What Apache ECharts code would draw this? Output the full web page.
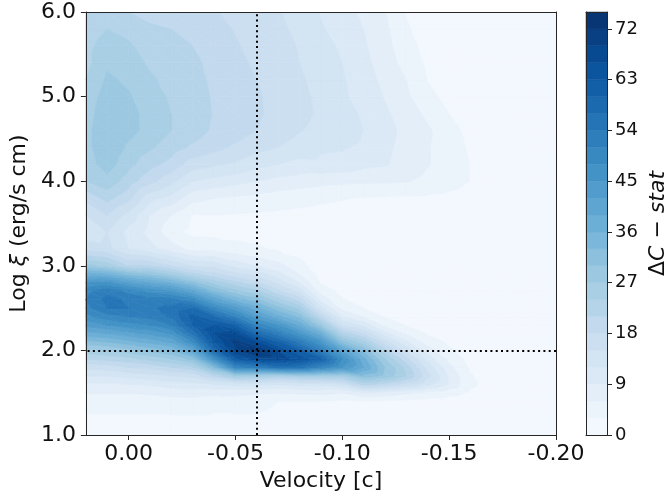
<!DOCTYPE html>
<html>
<head>
<meta charset="utf-8">
<script src="https://cdn.jsdelivr.net/npm/echarts@6/dist/echarts.min.js"></script>
<style>
  html, body { margin: 0; padding: 0; background: #ffffff; }
  #chart { width: 670px; height: 499px; }
</style>
</head>
<body>
<div id="chart"></div>
<script>
// Grid nodes of the ΔC-stat map: outflow velocity (columns) and log ionisation parameter (rows)
const velocity = [0.02, 0.01, 0.00, -0.01, -0.02, -0.03, -0.04, -0.05, -0.06, -0.07, -0.08, -0.09,
                  -0.10, -0.11, -0.12, -0.13, -0.14, -0.15, -0.16, -0.17, -0.18, -0.19, -0.20];
const logXi = [1.0, 1.2, 1.4, 1.5, 1.6, 1.7, 1.8, 1.9, 2.0, 2.1, 2.2, 2.3, 2.4, 2.5, 2.6, 2.7, 2.8,
               2.9, 3.0, 3.2, 3.4, 3.6, 3.8, 4.0, 4.2, 4.4, 4.6, 4.8, 5.0, 5.2, 5.4, 5.6, 5.8, 6.0];

// ΔC-stat improvement, one row per logXi value, one entry per velocity value
const deltaC = [
  [1.5, 1.5, 1.5, 1.5, 1.5, 1.5, 1.5, 1.5, 1.5, 1.5, 1.5, 1.5, 1.2, 1.2, 1.1, 1, 1, 1, 0.9, 0.9, 0.8, 0.8, 0.7],
  [2.5, 2.5, 2.5, 2.5, 2.5, 2.5, 2.5, 2.5, 2.5, 2, 2, 2, 1.8, 1.5, 1.4, 1.3, 1.2, 1.1, 1, 1, 0.9, 0.8, 0.8],
  [4.5, 4.5, 4.5, 4.5, 5, 5, 4, 4.5, 4, 3, 3, 3, 2.5, 3, 2.5, 2.3, 2, 1.8, 1.4, 1.2, 1, 0.9, 0.8],
  [6, 6, 6, 6.5, 7, 7.5, 7, 7, 6.5, 6, 6.5, 7, 6, 9, 8, 6.5, 5, 4, 2.5, 1.6, 1.2, 1, 0.9],
  [8.5, 8.5, 9, 9.5, 10.5, 11, 12, 13, 13, 12, 13, 13, 15, 22, 20, 17, 13, 8.5, 3.5, 2, 1.4, 1.1, 1],
  [12, 12, 13, 14, 15, 16, 21, 27, 26, 24, 26, 26, 26, 32, 29, 24, 16, 8.5, 3.2, 1.9, 1.4, 1.1, 1],
  [16, 16.5, 18, 19, 21, 23, 33, 50, 52, 55, 55, 50, 45, 39, 30, 23, 14, 7, 2.6, 1.6, 1.3, 1.1, 1],
  [21, 22, 23, 25, 27, 31, 47, 62, 67, 67, 65, 60, 48, 37, 27, 19, 11, 5, 2, 1.4, 1.2, 1, 0.9],
  [26, 27, 29, 31, 33, 40, 58, 69, 73, 66, 60, 52, 41, 32, 22, 14, 7.5, 3.5, 1.6, 1.2, 1.1, 1, 0.9],
  [32, 33, 35, 37, 39.5, 48, 63, 70, 66, 60, 53, 45, 31, 25, 16, 9.5, 4.5, 2.5, 1.3, 1.1, 1, 0.9, 0.9],
  [38, 39, 41, 43, 45.5, 55, 66, 67, 58, 52, 45, 37, 23, 18, 10, 5.5, 2.7, 1.8, 1.2, 1, 1, 0.9, 0.8],
  [43, 45, 47, 48, 51, 60, 63, 60, 50, 45, 38, 28, 15, 11, 5, 3, 1.8, 1.4, 1.1, 1, 0.9, 0.8, 0.8],
  [47, 50, 51, 52, 54.5, 61, 57, 51, 43, 37, 32, 20, 9, 6, 2.8, 1.8, 1.4, 1.2, 1, 0.9, 0.9, 0.8, 0.8],
  [50, 54, 54, 53.5, 55, 57, 49, 43, 37, 31, 26, 13, 5, 3, 1.8, 1.4, 1.2, 1.1, 1, 0.9, 0.8, 0.8, 0.7],
  [51, 55, 53.5, 52, 52, 49, 41, 35, 31, 25, 20, 8, 3.2, 2, 1.3, 1.2, 1.1, 1, 0.9, 0.9, 0.8, 0.7, 0.7],
  [50, 53, 50, 47, 45, 40, 33, 28, 25, 19, 14, 4.5, 2.3, 1.5, 1.2, 1.1, 1, 1, 0.9, 0.8, 0.8, 0.7, 0.7],
  [45, 46, 42, 39, 36, 31, 26, 22, 19, 14, 9, 2.8, 1.8, 1.3, 1.1, 1, 1, 0.9, 0.8, 0.8, 0.7, 0.7, 0.6],
  [37, 36, 32, 30, 26.5, 22, 19, 16, 14, 10, 6, 2, 1.5, 1.2, 1, 1, 0.9, 0.9, 0.8, 0.8, 0.7, 0.7, 0.6],
  [28, 26, 21, 21, 18, 15, 14, 11, 9, 7, 4, 1.5, 1.3, 1.1, 1, 0.9, 0.9, 0.8, 0.8, 0.7, 0.7, 0.6, 0.6],
  [17, 16, 12, 10, 7.5, 5, 5, 4, 3.5, 2.5, 1.8, 1.2, 1, 1, 0.9, 0.8, 0.8, 0.8, 0.7, 0.7, 0.7, 0.6, 0.6],
  [13, 15, 11, 8, 4, 2.2, 2, 2, 1.8, 1.5, 1.2, 1, 0.9, 0.9, 0.8, 0.8, 0.8, 0.7, 0.7, 0.7, 0.6, 0.6, 0.6],
  [15, 18, 14, 9, 6, 2.8, 3, 2.8, 2.6, 2.4, 2.2, 2, 1.8, 1.6, 1.5, 1.4, 1.3, 1.2, 1.1, 1, 0.9, 0.8, 0.7],
  [19, 22, 19, 13, 11, 7, 6, 5.5, 5, 4.5, 4, 3.5, 3.2, 2.8, 2.6, 2.5, 2.4, 2.2, 1.5, 1.2, 1, 0.9, 0.8],
  [24, 26, 22.5, 19, 16, 12, 11, 10, 9, 8, 7.5, 7, 6.6, 6.5, 6.4, 6.2, 5.2, 4.2, 2.9, 1.6, 1.2, 1, 0.9],
  [25.5, 28.5, 25, 22, 20, 16.5, 15.5, 14.5, 13, 12, 11, 11.3, 11, 9.8, 9.3, 7.8, 6.2, 4.5, 2.9, 1.7, 1.3, 1.1, 0.9],
  [26, 29.5, 26.5, 24.5, 22.5, 20.5, 19, 17.5, 16, 15, 13.8, 12.5, 12.3, 11.5, 9.6, 8, 6.2, 4.3, 2.6, 1.6, 1.3, 1.1, 0.9],
  [26, 29.7, 28, 26, 24, 22.5, 20.5, 19.5, 18, 16.5, 15.2, 14, 13.4, 12, 10, 8.2, 6.5, 4, 2.2, 1.5, 1.2, 1.1, 0.9],
  [25.5, 29.3, 28, 26, 24, 22.8, 20.8, 19.8, 18.5, 17, 15.9, 14.5, 13.3, 11.5, 9.5, 7.4, 5.3, 3, 1.9, 1.4, 1.2, 1, 0.9],
  [25, 28.5, 27.3, 25.5, 23.5, 22.6, 20.6, 19.6, 18.4, 16.9, 15.8, 14.3, 12.5, 10.8, 8.8, 6.5, 3.7, 2.2, 1.6, 1.3, 1.1, 1, 0.9],
  [24, 27.5, 26.5, 24.5, 23, 22.3, 20.3, 19.2, 18, 16.6, 15.4, 14, 12.3, 10.3, 8.2, 6, 2.9, 1.9, 1.5, 1.3, 1.1, 1, 0.8],
  [23, 26.5, 25.5, 23.5, 22.5, 21.8, 20, 18.8, 17.5, 16.3, 15, 13.5, 12, 9.8, 7.6, 4.8, 2.5, 1.7, 1.4, 1.2, 1.1, 1, 0.8],
  [23, 25.5, 24.5, 22.5, 22, 21, 19.5, 18.3, 17, 16, 14.8, 13, 11.5, 9.4, 7, 4, 2.1, 1.6, 1.3, 1.2, 1, 0.9, 0.8],
  [22, 24, 23, 21.5, 21, 20.5, 19, 17.8, 16.5, 15.6, 14.3, 12.3, 10.8, 9, 6.6, 3.3, 1.9, 1.5, 1.3, 1.2, 1, 0.9, 0.8],
  [21, 22, 21, 20, 19.5, 19, 18.3, 17, 16, 15.2, 14, 11.8, 10.2, 8.3, 6.2, 2.8, 1.8, 1.4, 1.2, 1.1, 1, 0.9, 0.8]
];

// Contour levels and colour-bar ticks
const levels = [0, 3, 6, 9, 12, 15, 18, 21, 24, 27, 30, 33, 36, 39, 42, 45, 48, 51, 54, 57, 60, 63, 66, 69, 72, 75];
const colorbarTicks = [0, 9, 18, 27, 36, 45, 54, 63, 72];
const velocityTicks = [0.00, -0.05, -0.10, -0.15, -0.20];
const logXiTicks = [1.0, 2.0, 3.0, 4.0, 5.0, 6.0];

// Best-fit solution marked by the dotted cross-hair
const refVelocity = -0.061;
const refLogXi = 2.0;

const FONT = 'DejaVu Sans';
const INK = '#111111';
const FRAME = '#262626';

// Sequential "Blues" palette, one colour per contour band
const bluesStops = [
  [247, 251, 255], [222, 235, 247], [198, 219, 239], [158, 202, 225], [107, 174, 214],
  [66, 146, 198], [33, 113, 181], [8, 81, 156], [8, 48, 107]
];
function blues(t) {
  const s = Math.max(0, Math.min(1, t)) * (bluesStops.length - 1);
  const i = Math.min(bluesStops.length - 2, Math.floor(s));
  const f = s - i;
  const a = bluesStops[i], b = bluesStops[i + 1];
  return 'rgb(' + a.map((c, n) => Math.round(c + (b[n] - c) * f)).join(',') + ')';
}
const lvMin = levels[0], lvMax = levels[levels.length - 1];
const bandColors = levels.slice(0, -1).map((lo, k) => blues(((lo + levels[k + 1]) / 2 - lvMin) / (lvMax - lvMin)));

// Keep the part of a polygon on one side of an iso-value (values vary linearly along edges)
function clipPoly(poly, t, keepAbove) {
  const out = [];
  const n = poly.length;
  for (let a = 0; a < n; a++) {
    const P = poly[a], Q = poly[(a + 1) % n];
    const pIn = keepAbove ? P.v >= t : P.v <= t;
    const qIn = keepAbove ? Q.v >= t : Q.v <= t;
    if (pIn) out.push(P);
    if (pIn !== qIn) {
      const s = (t - P.v) / (Q.v - P.v);
      out.push({ x: P.x + s * (Q.x - P.x), y: P.y + s * (Q.y - P.y), v: t });
    }
  }
  return out;
}

// One data item per grid cell
const cells = [];
for (let j = 0; j < logXi.length - 1; j++) {
  for (let i = 0; i < velocity.length - 1; i++) {
    cells.push([velocity[i], logXi[j], i, j]);
  }
}

// Filled contour bands inside one grid cell, split into two triangles
function renderCell(params, api) {
  const i = api.value(2), j = api.value(3);
  const node = (ci, cj) => {
    const p = api.coord([velocity[ci], logXi[cj]]);
    return { x: p[0], y: p[1], v: deltaC[cj][ci] };
  };
  const bl = node(i, j), br = node(i + 1, j), tl = node(i, j + 1), tr = node(i + 1, j + 1);
  const children = [];
  [[tl, bl, br], [tl, br, tr]].forEach(tri => {
    const vs = tri.map(p => p.v);
    const vmin = Math.min.apply(null, vs), vmax = Math.max.apply(null, vs);
    for (let k = 0; k < levels.length - 1; k++) {
      const lo = levels[k], hi = levels[k + 1];
      if (hi < vmin || lo > vmax) continue;
      let poly = clipPoly(tri, lo, true);
      if (poly.length < 3) continue;
      poly = clipPoly(poly, hi, false);
      if (poly.length < 3) continue;
      children.push({
        type: 'polygon',
        shape: { points: poly.map(p => [p.x, p.y]) },
        style: { fill: bandColors[k], stroke: bandColors[k], lineWidth: 0.7 }
      });
    }
  });
  return { type: 'group', children: children };
}

// Colour-bar segments, one per contour band
const colorbarBands = levels.slice(0, -1).map((lo, k) => [0, lo, levels[k + 1], k]);
function renderBand(params, api) {
  const lo = api.value(1), hi = api.value(2), k = api.value(3);
  const p0 = api.coord([0, lo]);
  const p1 = api.coord([1, hi]);
  return {
    type: 'rect',
    shape: { x: p0[0], y: p1[1], width: p1[0] - p0[0], height: p0[1] - p1[1] },
    style: { fill: bandColors[k], stroke: bandColors[k], lineWidth: 0.5 }
  };
}

const frameLine = { show: true, onZero: false, lineStyle: { color: FRAME, width: 1 } };
const tickStyle = { show: true, inside: false, length: 5, lineStyle: { color: FRAME, width: 1 } };
const hidden = { show: false };

const chart = echarts.init(document.getElementById('chart'), null, { renderer: 'canvas' });
chart.setOption({
  animation: false,
  backgroundColor: '#ffffff',
  textStyle: { fontFamily: FONT, color: INK },
  grid: [
    { left: 82, top: 12, width: 474, height: 423, containLabel: false },
    { left: 586, top: 12, width: 21, height: 423, containLabel: false }
  ],
  xAxis: [
    {
      gridIndex: 0, type: 'value', inverse: true, min: -0.2, max: 0.02, interval: 0.05, z: 5,
      position: 'bottom',
      axisLine: frameLine,
      axisTick: Object.assign({ customValues: velocityTicks }, tickStyle),
      axisLabel: {
        customValues: velocityTicks, margin: 8, fontSize: 22, fontFamily: FONT, color: INK,
        formatter: v => v.toFixed(2)
      },
      splitLine: hidden,
      name: 'Velocity [c]', nameLocation: 'middle', nameGap: 33,
      nameTextStyle: { fontSize: 22, fontFamily: FONT, color: INK }
    },
    {
      gridIndex: 0, type: 'value', inverse: true, min: -0.2, max: 0.02, z: 5, position: 'top',
      axisLine: frameLine, axisTick: hidden, axisLabel: hidden, splitLine: hidden
    },
    {
      gridIndex: 1, type: 'value', min: 0, max: 1, z: 5, position: 'bottom',
      axisLine: frameLine, axisTick: hidden, axisLabel: hidden, splitLine: hidden
    },
    {
      gridIndex: 1, type: 'value', min: 0, max: 1, z: 5, position: 'top',
      axisLine: frameLine, axisTick: hidden, axisLabel: hidden, splitLine: hidden
    }
  ],
  yAxis: [
    {
      gridIndex: 0, type: 'value', min: 1, max: 6, interval: 1, z: 5, position: 'left',
      axisLine: frameLine,
      axisTick: Object.assign({ customValues: logXiTicks }, tickStyle),
      axisLabel: {
        customValues: logXiTicks, margin: 10, fontSize: 22, fontFamily: FONT, color: INK,
        formatter: v => v.toFixed(1)
      },
      splitLine: hidden,
      name: '{n|Log }{i|ξ}{n| (erg/s cm)}', nameLocation: 'middle', nameGap: 48, nameRotate: 90,
      nameTextStyle: {
        fontSize: 22, fontFamily: FONT, color: INK,
        rich: {
          n: { fontSize: 22, fontFamily: FONT, color: INK },
          i: { fontSize: 22, fontFamily: FONT, color: INK, fontStyle: 'italic' }
        }
      }
    },
    {
      gridIndex: 0, type: 'value', min: 1, max: 6, z: 5, position: 'right',
      axisLine: frameLine, axisTick: hidden, axisLabel: hidden, splitLine: hidden
    },
    {
      gridIndex: 1, type: 'value', min: lvMin, max: lvMax, z: 5, position: 'right',
      axisLine: frameLine,
      axisTick: Object.assign({ customValues: colorbarTicks }, tickStyle),
      axisLabel: { customValues: colorbarTicks, margin: 8, fontSize: 18, fontFamily: FONT, color: INK },
      splitLine: hidden,
      name: '{n|Δ}{i|C}{n| − }{i|stat}', nameLocation: 'middle', nameGap: 40, nameRotate: 90,
      nameTextStyle: {
        fontSize: 22, fontFamily: FONT, color: INK,
        rich: {
          n: { fontSize: 22, fontFamily: FONT, color: INK },
          i: { fontSize: 22, fontFamily: FONT, color: INK, fontStyle: 'italic' }
        }
      }
    },
    {
      gridIndex: 1, type: 'value', min: lvMin, max: lvMax, z: 5, position: 'left',
      axisLine: frameLine, axisTick: hidden, axisLabel: hidden, splitLine: hidden
    }
  ],
  series: [
    {
      type: 'custom',
      name: 'ΔC-stat',
      xAxisIndex: 0, yAxisIndex: 0,
      coordinateSystem: 'cartesian2d',
      clip: true,
      silent: true,
      renderItem: renderCell,
      encode: { x: 0, y: 1 },
      data: cells,
      markLine: {
        silent: true,
        symbol: ['none', 'none'],
        label: { show: false },
        lineStyle: { color: '#000000', width: 2, type: [2, 3.3], cap: 'butt' },
        data: [{ xAxis: refVelocity }, { yAxis: refLogXi }]
      }
    },
    {
      type: 'custom',
      name: 'colour bar',
      xAxisIndex: 2, yAxisIndex: 2,
      coordinateSystem: 'cartesian2d',
      silent: true,
      renderItem: renderBand,
      encode: { x: 0, y: 1 },
      data: colorbarBands
    }
  ]
});
</script>
</body>
</html>
